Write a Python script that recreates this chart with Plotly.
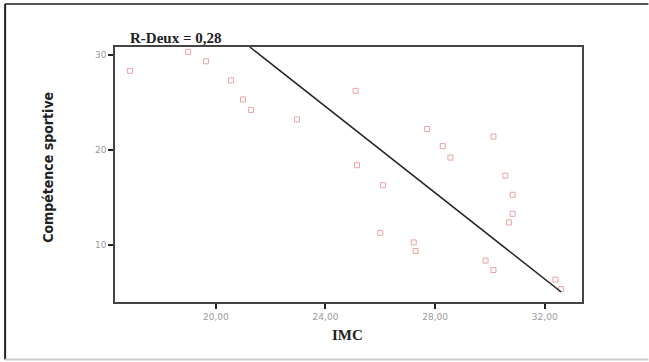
import plotly.graph_objects as go

# Data
imc = [16.87, 18.99, 19.64, 20.55, 20.99, 21.28, 22.96, 25.10, 25.15, 26.10,
       26.00, 27.22, 27.29, 27.71, 28.28, 28.56, 30.13, 30.56, 30.83, 30.83,
       30.69, 29.84, 30.13, 32.39, 32.60]
competence = [28.3, 30.3, 29.3, 27.3, 25.3, 24.2, 23.2, 26.2, 18.4, 16.3,
              11.3, 10.3, 9.4, 22.2, 20.4, 19.2, 21.4, 17.3, 15.3, 13.3,
              12.4, 8.4, 7.4, 6.4, 5.4]

fit_x = [21.24, 32.60]
fit_y = [30.80, 5.10]

x_tickvals = [20, 24, 28, 32]
x_ticktext = ["20,00", "24,00", "28,00", "32,00"]
y_tickvals = [10, 20, 30]
y_ticktext = ["10", "20", "30"]

r2_label = "R-Deux = 0,28"
x_title = "IMC"
y_title = "Compétence sportive"

# Layout geometry (pixels)
W, H = 649, 362
L, R, T, B = 115, 582.5, 47, 302.5
pw, ph = R - L, B - T

def px(x):
    return (x - L) / pw

def py(y):
    return (B - y) / ph

fig = go.Figure()
fig.add_trace(go.Scatter(
    x=imc, y=competence, mode="markers",
    marker=dict(symbol="square-open", size=5, color="#eba3a3",
                line=dict(width=1, color="#eba3a3")),
    showlegend=False, cliponaxis=False,
))
fig.add_trace(go.Scatter(
    x=fit_x, y=fit_y, mode="lines",
    line=dict(color="#222222", width=1.5),
    showlegend=False,
))

axis_common = dict(showgrid=False, zeroline=False, showline=True, mirror=True,
                   linecolor="#444444", linewidth=1.5, ticks="outside",
                   ticklen=5, tickwidth=1.5, tickcolor="#222222",
                   tickfont=dict(family="DejaVu Sans", size=9, color="#999999"))

fig.update_layout(
    width=W, height=H,
    margin=dict(l=L, r=W - R, t=T, b=H - B, pad=0),
    paper_bgcolor="white", plot_bgcolor="white",
    xaxis=dict(range=[16.32, 33.36], tickvals=x_tickvals, ticktext=x_ticktext,
               **axis_common),
    yaxis=dict(range=[4.05, 30.8], tickvals=y_tickvals, ticktext=y_ticktext,
               **axis_common),
    annotations=[
        dict(text="<b>" + r2_label + "</b>", xref="paper", yref="paper",
             x=px(128), y=py(38), xanchor="left", yanchor="middle",
             showarrow=False,
             font=dict(family="Liberation Serif", size=15, color="#222222")),
        dict(text="<b>" + x_title + "</b>", xref="paper", yref="paper",
             x=px(348), y=py(336), xanchor="center", yanchor="middle",
             showarrow=False,
             font=dict(family="Liberation Serif", size=15, color="#222222")),
        dict(text="<b>" + y_title + "</b>", xref="paper", yref="paper",
             x=px(48), y=py(168), xanchor="center", yanchor="middle",
             textangle=-90, showarrow=False,
             font=dict(family="DejaVu Sans Condensed", size=14, color="#222222")),
    ],
    shapes=[
        dict(type="line", xref="paper", yref="paper",
             x0=px(5), x1=px(649), y0=py(4), y1=py(4),
             line=dict(color="#555555", width=2)),
        dict(type="line", xref="paper", yref="paper",
             x0=px(5), x1=px(5), y0=py(4), y1=py(360),
             line=dict(color="#222222", width=2)),
        dict(type="line", xref="paper", yref="paper",
             x0=px(5), x1=px(649), y0=py(360), y1=py(360),
             line=dict(color="#cccccc", width=2)),
    ],
)

fig.write_html("out.html")
